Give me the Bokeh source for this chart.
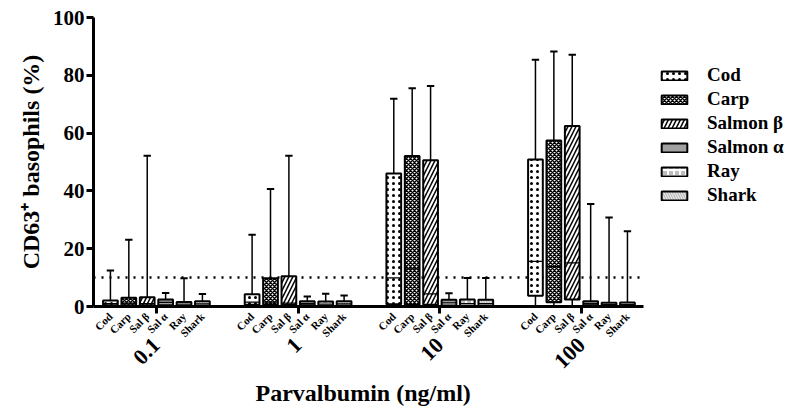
import math
from bokeh.plotting import figure
from bokeh.models import (FixedTicker, LinearAxis, Range1d, Legend, Title,
                          LegendItem, ColumnDataSource)
from bokeh.embed import file_html
from bokeh.resources import INLINE

# ---------------- data ----------------
concentrations = ["0.1", "1", "10", "100"]
species = ["Cod", "Carp", "Salmon β", "Salmon α", "Ray", "Shark"]
species_ticks = ["Cod", "Carp", "Sal β", "Sal α", "Ray", "Shark"]

# rows: concentration 0.1, 1, 10, 100 ; columns: species order above
whisker_high = [
    [12.5, 23.1, 52.2, 4.7, 9.8, 4.3],
    [24.8, 40.7, 52.2, 3.5, 4.4, 3.8],
    [71.9, 75.5, 76.3, 4.6, 9.9, 9.9],
    [85.4, 88.2, 87.1, 35.5, 30.8, 26.0],
]
upper_quartile = [
    [2.1, 3.0, 3.2, 2.4, 1.6, 1.8],
    [4.2, 9.8, 10.5, 1.8, 1.7, 1.8],
    [46.0, 52.1, 50.6, 2.3, 2.4, 2.3],
    [50.9, 57.4, 62.5, 1.8, 1.3, 1.4],
]
median = [
    [1.0, 1.2, 1.0, 1.4, 0.8, 0.9],
    [1.5, 1.5, 1.2, 1.0, 0.8, 0.9],
    [9.9, 13.0, 4.4, 1.3, 1.0, 1.0],
    [15.6, 13.8, 15.1, 1.0, 0.7, 0.7],
]
lower_quartile = [
    [0.4, 0.4, 0.4, 0.4, 0.3, 0.3],
    [0.6, 0.6, 0.6, 0.4, 0.3, 0.3],
    [0.8, 0.6, 0.6, 0.3, 0.3, 0.3],
    [3.7, 1.5, 2.4, 0.4, 0.3, 0.3],
]
whisker_low = [
    [0.0, 0.0, 0.0, 0.0, 0.0, 0.0],
    [0.0, 0.0, 0.0, 0.0, 0.0, 0.0],
    [0.0, 0.0, 0.0, 0.0, 0.0, 0.0],
    [0.0, 0.0, 0.0, 0.0, 0.0, 0.0],
]
threshold = 10

# ---------------- layout / styling ----------------
SLOT = 10          # distance between boxes
GROUP = 77         # distance between concentration groups
BOX_HALF = 4
CAP_HALF = 2
X_START, AXIS_END, X_END = -9.2, 289.7, 370.7
FONT = "Liberation Serif"
INK = "black"

styles = [
    dict(fill_color="white", hatch_pattern=".", hatch_color="black", hatch_scale=6, hatch_weight=1.2),
    dict(fill_color="white", hatch_pattern="x", hatch_color="black", hatch_scale=4, hatch_weight=1.5),
    dict(fill_color="white", hatch_pattern="/", hatch_color="black", hatch_scale=8, hatch_weight=1.5),
    dict(fill_color="#a0a0a0"),
    dict(fill_color="#bdbdbd", hatch_pattern="+", hatch_color="white", hatch_scale=6, hatch_weight=2),
    dict(fill_color="#a8a8a8", hatch_pattern="\\", hatch_color="#e6e6e6", hatch_scale=5, hatch_weight=1.5),
]

p = figure(width=800, height=413,
           x_range=Range1d(X_START, X_END), y_range=Range1d(0, 100),
           output_backend="svg", toolbar_location=None, x_axis_type=None,
           min_border_left=93, min_border_right=8, min_border_top=17, min_border_bottom=107)
p.outline_line_color = None
p.ygrid.grid_line_color = None
p.background_fill_color = "white"

# threshold dotted line (only across the axis extent)
p.line(x=[X_START, AXIS_END], y=[threshold, threshold], line_color="black",
       line_width=2.5, line_dash="2 6")

legend_items = []
for s, name in enumerate(species):
    xs = [g * GROUP + s * SLOT for g in range(len(concentrations))]
    src = ColumnDataSource(dict(
        x=xs,
        left=[x - BOX_HALF for x in xs], right=[x + BOX_HALF for x in xs],
        cl=[x - CAP_HALF for x in xs], cr=[x + CAP_HALF for x in xs],
        hi=[whisker_high[g][s] for g in range(4)],
        q3=[upper_quartile[g][s] for g in range(4)],
        med=[median[g][s] for g in range(4)],
        q1=[lower_quartile[g][s] for g in range(4)],
        lo=[whisker_low[g][s] for g in range(4)],
    ))
    p.segment(x0="x", y0="q3", x1="x", y1="hi", source=src, line_color="black", line_width=1.5)
    p.segment(x0="x", y0="lo", x1="x", y1="q1", source=src, line_color="black", line_width=1.5)
    p.segment(x0="cl", y0="hi", x1="cr", y1="hi", source=src, line_color="black", line_width=2)
    r = p.quad(left="left", right="right", bottom="q1", top="q3", source=src,
               line_color="black", line_width=2, **styles[s])
    p.segment(x0="left", y0="med", x1="right", y1="med", source=src, line_color="black", line_width=1.2)
    legend_items.append(LegendItem(label=name, renderers=[r]))

# y axis
yax = p.yaxis[0]
yax.ticker = FixedTicker(ticks=[0, 20, 40, 60, 80, 100])
yax.axis_label = "CD63⁺ basophils (%)"
yax.axis_label_text_font = FONT
yax.axis_label_text_font_style = "bold"
yax.axis_label_text_font_size = "24px"
yax.axis_label_text_color = INK
yax.axis_label_standoff = 6
yax.major_label_text_font = FONT
yax.major_label_text_font_style = "bold"
yax.major_label_text_font_size = "21px"
yax.major_label_text_color = INK
yax.major_label_standoff = 2
yax.axis_line_width = 3
yax.major_tick_line_width = 3
yax.major_tick_out = 7
yax.major_tick_in = 0
yax.minor_tick_line_color = None

# x axis: species labels + group ticks
species_x = [g * GROUP + s * SLOT for g in range(4) for s in range(6)]
group_x = [g * GROUP + 25 for g in range(4)]
ax1 = LinearAxis(ticker=FixedTicker(ticks=species_x, minor_ticks=group_x),
                 bounds=(X_START, AXIS_END))
ax1.major_label_overrides = {x: species_ticks[i % 6] for i, x in enumerate(species_x)}
ax1.major_label_orientation = math.pi / 4
ax1.major_label_text_font = FONT
ax1.major_label_text_font_style = "bold"
ax1.major_label_text_font_size = "11px"
ax1.major_label_text_color = INK
ax1.major_tick_line_color = None
ax1.major_tick_out = 1
ax1.major_label_standoff = 1
ax1.minor_tick_out = 7
ax1.minor_tick_in = 0
ax1.minor_tick_line_width = 3
ax1.axis_line_width = 3
p.add_layout(ax1, "below")

# concentration labels
ax2 = LinearAxis(ticker=FixedTicker(ticks=group_x))
ax2.major_label_overrides = {x: concentrations[i] for i, x in enumerate(group_x)}
ax2.major_label_orientation = math.pi / 4
ax2.major_label_text_font = FONT
ax2.major_label_text_font_style = "bold"
ax2.major_label_text_font_size = "22px"
ax2.major_label_text_color = INK
ax2.axis_line_color = None
ax2.major_tick_line_color = None
ax2.minor_tick_line_color = None
ax2.major_tick_out = 0
ax2.major_label_standoff = -5
p.add_layout(ax2, "below")

# x-axis title, centred under the axis line
p.add_layout(Title(text="Parvalbumin (ng/ml)", align="left", offset=162,
                   text_font=FONT, text_font_style="bold", text_font_size="24px",
                   text_color=INK, standoff=0), "below")

legend = Legend(items=legend_items, location=(565, 100))
legend.label_text_font = FONT
legend.label_text_font_style = "bold"
legend.label_text_font_size = "19px"
legend.label_text_color = INK
legend.glyph_width = 32
legend.glyph_height = 11
legend.label_standoff = 17
legend.label_height = 20
legend.spacing = 2
legend.padding = 0
legend.margin = 0
legend.border_line_color = None
legend.background_fill_alpha = 0
p.add_layout(legend, "center")

open("out.html", "w").write(file_html(p, INLINE))
